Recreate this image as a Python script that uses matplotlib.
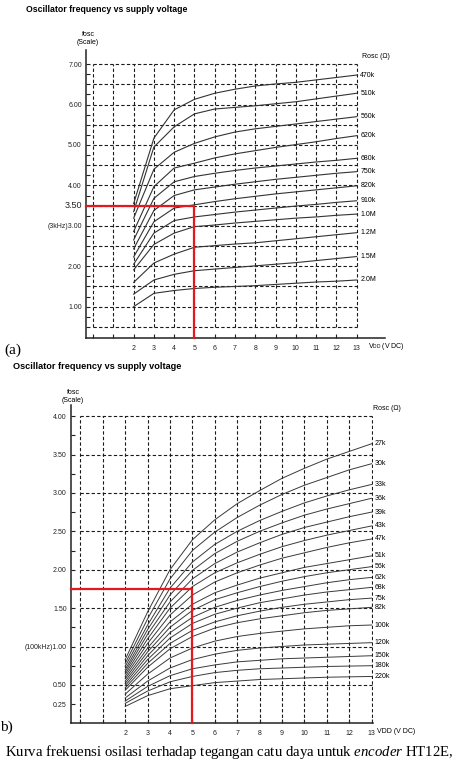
import numpy as np
import matplotlib.pyplot as plt

plt.rcParams['font.family'] = 'Liberation Sans'
plt.rcParams['mathtext.fontset'] = 'custom'
plt.rcParams['mathtext.rm'] = 'Liberation Sans'
plt.rcParams['mathtext.it'] = 'Liberation Serif:italic'

# DATA - panel (a)
vdd_a = [2, 3, 4, 5, 6, 7, 8, 9, 10, 11, 12, 13]
rosc_a = ['470k', '510k', '560k', '620k', '680k', '750k', '820k', '910k',
          '1.0M', '1.2M', '1.5M', '2.0M']
fosc_a = [
    [3.55, 5.17, 5.87, 6.13, 6.28, 6.38, 6.46, 6.51, 6.55, 6.61, 6.67, 6.73],
    [3.35, 4.95, 5.45, 5.77, 5.89, 5.93, 5.97, 6.02, 6.07, 6.14, 6.21, 6.28],
    [3.19, 4.40, 4.82, 5.04, 5.20, 5.32, 5.40, 5.46, 5.52, 5.58, 5.64, 5.70],
    [2.86, 3.97, 4.43, 4.55, 4.68, 4.78, 4.86, 4.94, 5.01, 5.08, 5.16, 5.23],
    [2.65, 3.68, 4.09, 4.22, 4.30, 4.37, 4.43, 4.48, 4.53, 4.58, 4.62, 4.67],
    [2.43, 3.38, 3.75, 3.89, 3.96, 4.03, 4.09, 4.15, 4.20, 4.25, 4.30, 4.34],
    [2.23, 3.10, 3.44, 3.52, 3.60, 3.67, 3.73, 3.79, 3.84, 3.89, 3.94, 3.99],
    [2.05, 2.82, 3.13, 3.22, 3.28, 3.34, 3.39, 3.44, 3.49, 3.53, 3.58, 3.62],
    [1.91, 2.54, 2.82, 2.98, 3.02, 3.07, 3.11, 3.15, 3.19, 3.22, 3.26, 3.29],
    [1.60, 2.08, 2.30, 2.47, 2.51, 2.55, 2.58, 2.63, 2.68, 2.73, 2.78, 2.83],
    [1.31, 1.66, 1.80, 1.89, 1.93, 1.97, 2.01, 2.05, 2.09, 2.14, 2.19, 2.24],
    [1.00, 1.33, 1.40, 1.45, 1.48, 1.50, 1.52, 1.55, 1.58, 1.61, 1.63, 1.66],
]
mark_a = (5, 3.5)

# DATA - panel (b)
vdd_b = [2, 3, 4, 5, 6, 7, 8, 9, 10, 11, 12, 13]
rosc_b = ['27k', '30k', '33k', '36k', '39k', '43k', '47k', '51k', '56k', '62k',
          '68k', '75k', '82k', '100k', '120k', '150k', '180k', '220k']
fosc_b = [
    [0.83, 1.45, 2.00, 2.39, 2.65, 2.86, 3.03, 3.19, 3.32, 3.44, 3.54, 3.64],
    [0.78, 1.36, 1.88, 2.25, 2.49, 2.68, 2.84, 2.98, 3.10, 3.20, 3.30, 3.38],
    [0.74, 1.28, 1.76, 2.10, 2.33, 2.50, 2.64, 2.76, 2.87, 2.96, 3.04, 3.11],
    [0.70, 1.22, 1.67, 1.99, 2.21, 2.37, 2.50, 2.61, 2.71, 2.79, 2.86, 2.93],
    [0.67, 1.16, 1.58, 1.88, 2.08, 2.23, 2.35, 2.46, 2.55, 2.62, 2.69, 2.75],
    [0.64, 1.10, 1.50, 1.78, 1.96, 2.09, 2.20, 2.30, 2.38, 2.45, 2.51, 2.57],
    [0.61, 1.04, 1.41, 1.67, 1.84, 1.96, 2.06, 2.15, 2.22, 2.29, 2.35, 2.40],
    [0.58, 0.98, 1.32, 1.55, 1.70, 1.80, 1.89, 1.96, 2.03, 2.08, 2.13, 2.18],
    [0.55, 0.93, 1.25, 1.47, 1.61, 1.70, 1.78, 1.85, 1.91, 1.96, 2.00, 2.04],
    [0.52, 0.88, 1.18, 1.38, 1.51, 1.60, 1.67, 1.73, 1.78, 1.83, 1.87, 1.90],
    [0.49, 0.83, 1.11, 1.30, 1.42, 1.50, 1.57, 1.62, 1.67, 1.71, 1.74, 1.77],
    [0.46, 0.78, 1.04, 1.21, 1.32, 1.40, 1.46, 1.51, 1.55, 1.58, 1.61, 1.63],
    [0.43, 0.73, 0.97, 1.13, 1.24, 1.31, 1.36, 1.40, 1.44, 1.47, 1.49, 1.51],
    [0.38, 0.64, 0.85, 0.98, 1.07, 1.13, 1.17, 1.20, 1.23, 1.25, 1.27, 1.28],
    [0.33, 0.55, 0.72, 0.83, 0.90, 0.95, 0.98, 1.00, 1.02, 1.03, 1.04, 1.05],
    [0.29, 0.48, 0.62, 0.71, 0.76, 0.80, 0.82, 0.84, 0.85, 0.86, 0.87, 0.88],
    [0.26, 0.42, 0.54, 0.61, 0.66, 0.69, 0.71, 0.72, 0.73, 0.74, 0.745, 0.75],
    [0.22, 0.36, 0.45, 0.49, 0.53, 0.55, 0.57, 0.58, 0.59, 0.60, 0.605, 0.61],
]
mark_b = (5, 1.75)

yticks_a = np.arange(0.5, 7.01, 0.25)
ylabels_a = {1: '1.00', 2: '2.00', 3: '(3kHz)3.00', 4: '4.00',
             5: '5.00', 6: '6.00', 7: '7.00'}
yticks_b = np.arange(0.25, 4.01, 0.25)
ylabels_b = {0.25: '0.25', 0.5: '0.50', 1.0: '(100kHz)1.00', 1.5: '1.50',
             2.0: '2.00', 2.5: '2.50', 3.0: '3.00', 3.5: '3.50', 4.0: '4.00'}
xticks = list(range(0, 14))

W, H = 457, 762
fig = plt.figure(figsize=(W / 100, H / 100), dpi=100)


def fx(px):
    return px / W


def fy(py):
    return 1 - py / H


GRID = dict(color='#1a1a1a', lw=0.8, linestyle=(0, (3, 2)))
RED = '#e3191e'
FS = 5


def setup(ax, yticks, ylabels, ymin, ymax_grid):
    for s in ['top', 'right']:
        ax.spines[s].set_visible(False)
    for s in ['left', 'bottom']:
        ax.spines[s].set_linewidth(1.1)
        ax.spines[s].set_color('#222222')
    ax.hlines(np.arange(0.5, ymax_grid + 0.01, 0.5), 0, 13, zorder=1, **GRID)
    ax.vlines(xticks, ymin, ymax_grid, zorder=1, **GRID)
    ax.set_yticks(yticks)
    ax.set_yticklabels([ylabels.get(round(t, 2), '') for t in yticks])
    ax.set_xticks(xticks)
    ax.set_xticklabels(['', ''] + [str(i) for i in xticks[2:]])
    ax.tick_params(direction='in', length=3, width=0.8, labelsize=FS, pad=3,
                   colors='#222222')
    ax.tick_params(axis='x', pad=5)


# PANEL (a)
ax_a = fig.add_axes([fx(86), fy(338), 299 / W, 288 / H])
ax_a.set_xlim(-0.35, 14.4)
ax_a.set_ylim(0.225, 7.35)
setup(ax_a, yticks_a, ylabels_a, 0.5, 7.0)
for name, vals in zip(rosc_a, fosc_a):
    ax_a.plot(vdd_a, vals, color='#333333', lw=0.8, zorder=2)
    ax_a.text(13.18, vals[-1], name, fontsize=FS, va='center', ha='left',
              clip_on=False)
ax_a.plot([-0.35, mark_a[0], mark_a[0]], [mark_a[1], mark_a[1], 0.225],
          color=RED, lw=1.6, zorder=3, clip_on=False)
ax_a.text(-0.55, mark_a[1], '3.50', fontsize=6.5, ha='right', va='center',
          color='#222222', clip_on=False)

fig.text(fx(26), fy(10), 'Oscillator frequency vs supply voltage',
         fontsize=6.3, fontweight='bold', va='center', ha='left')
fig.text(fx(88), fy(35), 'fosc', fontsize=FS, ha='center', va='center')
fig.text(fx(88), fy(43), '(Scale)', fontsize=FS, ha='center', va='center')
fig.text(fx(362), fy(56), 'Rosc (\u03a9)', fontsize=FS, ha='left', va='center')
fig.text(fx(368), fy(347), r'V$_{\rm DD}$ (V DC)', fontsize=FS, ha='left',
         va='center')
fig.text(fx(4), fy(350), '(a)', fontsize=11, family='Liberation Serif',
         ha='left', va='center')

# PANEL (b)
ax_b = fig.add_axes([fx(71), fy(723.3), 301.7 / W, 318.7 / H])
ax_b.set_xlim(-0.42, 13.05)
ax_b.set_ylim(0, 4.15)
setup(ax_b, yticks_b, ylabels_b, 0, 4.0)
for name, vals in zip(rosc_b, fosc_b):
    ax_b.plot(vdd_b, vals, color='#3a3a3a', lw=0.7, zorder=2)
    ax_b.text(13.15, vals[-1], name, fontsize=FS, va='center', ha='left',
              clip_on=False)
ax_b.plot([-0.42, mark_b[0], mark_b[0]], [mark_b[1], mark_b[1], 0],
          color=RED, lw=1.6, zorder=3, clip_on=False)

fig.text(fx(13), fy(367), 'Oscillator frequency vs supply voltage',
         fontsize=6.6, fontweight='bold', va='center', ha='left')
fig.text(fx(73), fy(392), 'fosc', fontsize=FS, ha='center', va='center')
fig.text(fx(73), fy(400), '(Scale)', fontsize=FS, ha='center', va='center')
fig.text(fx(373), fy(409), 'Rosc (\u03a9)', fontsize=FS, ha='left', va='center')
fig.text(fx(377), fy(731.5), 'VDD (V DC)', fontsize=FS, ha='left', va='center')
fig.text(fx(0), fy(727), 'b)', fontsize=11, family='Liberation Serif',
         ha='left', va='center')

fig.text(fx(5), fy(752),
         r'Kurva frekuensi osilasi terhadap tegangan catu daya untuk '
         r'$encoder$ HT12E,',
         fontsize=10.6, family='Liberation Serif', ha='left', va='center')

fig.savefig('out.png', dpi=100)
